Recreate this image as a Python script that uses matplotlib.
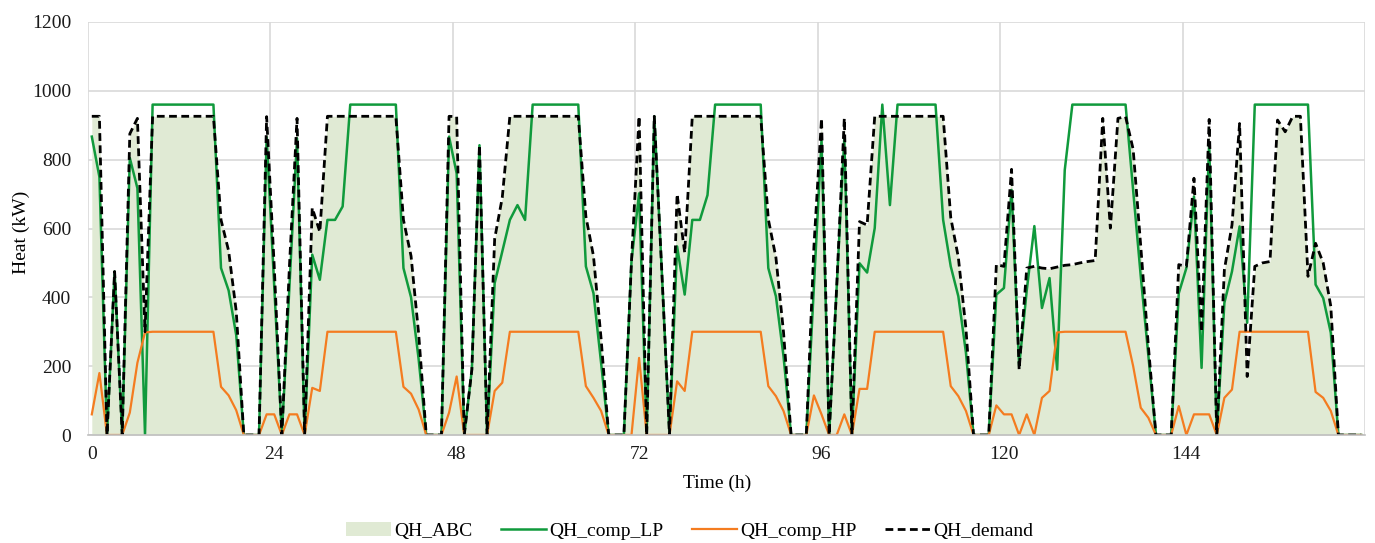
import matplotlib
matplotlib.use('Agg')
import matplotlib.pyplot as plt
from matplotlib.patches import Patch
from matplotlib.lines import Line2D

plt.rcParams['font.family'] = ['Liberation Serif', 'DejaVu Serif']

hours = list(range(168))
x_tick_positions = [0, 24, 48, 72, 96, 120, 144]
x_tick_labels = ['0', '24', '48', '72', '96', '120', '144']
y_ticks = [0, 200, 400, 600, 800, 1000, 1200]

QH_comp_LP = [
    867, 750, 0, 475, 0, 805, 717, 0, 960, 960, 960, 960, 960, 960, 960, 960, 960, 485, 420, 290, 0, 0, 0, 865,
    430, 0, 430, 862, 0, 524, 451, 625, 625, 664, 960, 960, 960, 960, 960, 960, 960, 485, 400, 220, 0, 0, 0, 867,
    760, 0, 190, 842, 0, 441, 533, 625, 668, 625, 960, 960, 960, 960, 960, 960, 960, 490, 412, 210, 0, 0, 0, 505,
    702, 0, 926, 470, 0, 548, 408, 625, 625, 697, 960, 960, 960, 960, 960, 960, 960, 485, 403, 229, 0, 0, 0, 432,
    857, 0, 432, 862, 0, 499, 472, 601, 960, 668, 960, 960, 960, 960, 960, 960, 625, 490, 403, 239, 0, 0, 0, 408,
    427, 712, 200, 420, 607, 369, 456, 190, 770, 960, 960, 960, 960, 960, 960, 960, 960, 712, 461, 229, 0, 0, 0, 412,
    485, 693, 195, 850, 0, 384, 475, 606, 326, 960, 960, 960, 960, 960, 960, 960, 960, 437, 398, 297, 0, 0, 0, 0,
]

QH_comp_HP = [
    60, 180, 0, 0, 0, 65, 210, 298, 300, 300, 300, 300, 300, 300, 300, 300, 300, 140, 115, 72, 0, 0, 0, 60,
    60, 0, 60, 60, 0, 137, 128, 300, 300, 300, 300, 300, 300, 300, 300, 300, 300, 140, 120, 74, 0, 0, 0, 65,
    170, 0, 0, 0, 0, 128, 152, 300, 300, 300, 300, 300, 300, 300, 300, 300, 300, 142, 108, 70, 0, 0, 0, 0,
    224, 0, 0, 0, 0, 156, 128, 300, 300, 300, 300, 300, 300, 300, 300, 300, 300, 142, 113, 70, 0, 0, 0, 115,
    60, 0, 0, 60, 0, 134, 134, 300, 300, 300, 300, 300, 300, 300, 300, 300, 300, 142, 113, 70, 0, 0, 0, 86,
    60, 60, 0, 60, 0, 108, 128, 298, 300, 300, 300, 300, 300, 300, 300, 300, 300, 200, 79, 50, 0, 0, 0, 84,
    0, 60, 60, 60, 0, 108, 132, 300, 300, 300, 300, 300, 300, 300, 300, 300, 300, 125, 108, 70, 0, 0, 0, 0,
]

QH_demand = [
    926, 926, 0, 475, 0, 875, 920, 300, 926, 926, 926, 926, 926, 926, 926, 926, 926, 625, 535, 360, 0, 0, 0, 925,
    490, 0, 490, 920, 0, 660, 590, 926, 926, 926, 926, 926, 926, 926, 926, 926, 926, 625, 520, 294, 0, 0, 0, 926,
    925, 0, 190, 842, 0, 570, 690, 926, 926, 926, 926, 926, 926, 926, 926, 926, 926, 635, 520, 280, 0, 0, 0, 505,
    926, 0, 926, 470, 0, 700, 530, 926, 926, 926, 926, 926, 926, 926, 926, 926, 926, 627, 516, 299, 0, 0, 0, 547,
    920, 0, 432, 920, 0, 620, 610, 926, 926, 926, 926, 926, 926, 926, 926, 926, 926, 632, 516, 309, 0, 0, 0, 495,
    490, 772, 190, 485, 490, 485, 483, 488, 493, 495, 500, 504, 507, 920, 601, 920, 925, 830, 548, 258, 0, 0, 0, 495,
    490, 746, 300, 917, 0, 480, 610, 905, 170, 490, 500, 504, 915, 881, 926, 926, 461, 557, 500, 374, 0, 0, 0, 0,
]

# Shaded area follows the demand profile
QH_ABC = QH_demand

AREA_C = '#e0ead4'
GREEN_C = '#109a3c'
ORANGE_C = '#f47c20'
GRID_C = '#d9d9d9'
FS = 14
DASH = (0, (2.8, 1.6))

fig = plt.figure(figsize=(13.75, 5.43), dpi=100)
ax = fig.add_axes([88/1375, 1 - 435/543, (1365-88)/1375, (435-22)/543])

ax.fill_between(hours, 0, QH_ABC, color=AREA_C, linewidth=0, zorder=1)
ax.plot(hours, QH_comp_LP, color=GREEN_C, lw=1.8, zorder=3)
ax.plot(hours, QH_comp_HP, color=ORANGE_C, lw=1.6, zorder=3)
ax.plot(hours, QH_demand, color='black', lw=2.0, linestyle=DASH, zorder=4)

ax.set_xlim(-0.5, 167.5)
ax.set_ylim(0, 1200)
ax.set_yticks(y_ticks)
ax.set_xticks(x_tick_positions)
ax.set_xticklabels(x_tick_labels)
ax.yaxis.grid(True, color=GRID_C, lw=1.2, zorder=0)
for k in range(0, 8):
    ax.axvline(-0.5 + 24 * k, color=GRID_C, lw=1.2, zorder=0)
ax.set_axisbelow(True)
for s in ['top', 'right', 'left']:
    ax.spines[s].set_visible(False)
ax.spines['bottom'].set_color('#bfbfbf')
ax.spines['bottom'].set_linewidth(1.2)
ax.spines['bottom'].set_zorder(5)
ax.tick_params(axis='both', length=0, labelsize=FS, colors='#1a1a1a')
ax.tick_params(axis='y', pad=12)
ax.tick_params(axis='x', pad=8)

ax.set_ylabel('Heat (kW)', fontsize=FS)
ax.yaxis.set_label_coords((21 - 88) / 1277, 0.49)
ax.set_xlabel('Time (h)', fontsize=FS)
ax.xaxis.set_label_coords((717 - 88) / 1277, -(483 - 435) / 413)
ax.xaxis.label.set_va('center')
ax.yaxis.label.set_va('center')

handles = [
    Patch(facecolor=AREA_C, edgecolor='none'),
    Line2D([], [], color=GREEN_C, lw=1.8),
    Line2D([], [], color=ORANGE_C, lw=1.6),
    Line2D([], [], color='black', lw=2.0, linestyle=DASH),
]
labels = ['QH_ABC', 'QH_comp_LP', 'QH_comp_HP', 'QH_demand']
fig.legend(handles, labels, loc='center', bbox_to_anchor=(0.5015, 1 - 531/543), ncol=4,
           frameon=False, fontsize=FS, handlelength=2.3, handletextpad=0.15, columnspacing=1.5)

fig.savefig('out.png', dpi=100)
